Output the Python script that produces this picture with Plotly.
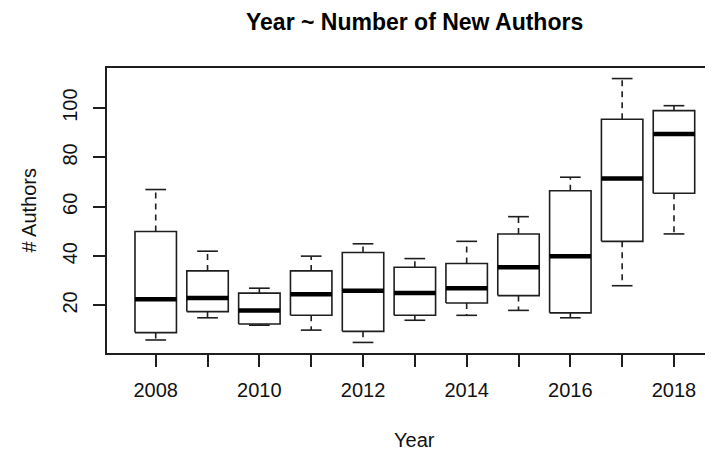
import plotly.graph_objects as go

years = [2008, 2009, 2010, 2011, 2012, 2013, 2014, 2015, 2016, 2017, 2018]
whisker_low = [6, 15, 12, 10, 5, 14, 16, 18, 15, 28, 49]
q1 = [9, 17.5, 12.5, 16, 9.5, 16, 21, 24, 17, 46, 65.5]
median = [22.5, 23, 18, 24.5, 26, 25, 27, 35.5, 40, 71.5, 89.5]
q3 = [50, 34, 25, 34, 41.5, 35.5, 37, 49, 66.5, 95.5, 99]
whisker_high = [67, 42, 27, 40, 45, 39, 46, 56, 72, 112, 101]
tick_labels = ["2008", "", "2010", "", "2012", "", "2014", "", "2016", "", "2018"]

title_text = "Year ~ Number of New Authors"
x_title = "Year"
y_title = "# Authors"

HW = 0.4    # half box width (R boxwex 0.8)
CW = 0.2    # half staple width
LC = "#1e1e1e"
FONT = "Liberation Sans, Arial, Helvetica, sans-serif"

bx, by, wx, wy, cx, cy, mx, my = [], [], [], [], [], [], [], []
for x, lo, a, m, b, hi in zip(years, whisker_low, q1, median, q3, whisker_high):
    bx += [x - HW, x + HW, x + HW, x - HW, x - HW, None]
    by += [a, a, b, b, a, None]
    wx += [x, x, None, x, x, None]
    wy += [b, hi, None, a, lo, None]
    cx += [x - CW, x + CW, None, x - CW, x + CW, None]
    cy += [hi, hi, None, lo, lo, None]
    mx += [x - HW, x + HW, None]
    my += [m, m, None]

fig = go.Figure()
fig.add_trace(go.Scatter(x=wx, y=wy, mode="lines", line=dict(color=LC, width=1.6, dash="6px,5px"),
                         hoverinfo="skip", showlegend=False))
fig.add_trace(go.Scatter(x=cx, y=cy, mode="lines", line=dict(color=LC, width=1.6),
                         hoverinfo="skip", showlegend=False))
fig.add_trace(go.Scatter(x=bx, y=by, mode="lines", line=dict(color=LC, width=1.6),
                         fill="toself", fillcolor="white", showlegend=False))
fig.add_trace(go.Scatter(x=mx, y=my, mode="lines", line=dict(color="black", width=4.5),
                         showlegend=False))

# page body has an 8px margin, so the figure is 8px smaller and margins shifted
fig.update_layout(
    width=705, height=445,
    margin=dict(l=99, r=0, t=60, b=100),
    paper_bgcolor="white", plot_bgcolor="white",
    font=dict(family=FONT, size=20, color="#111"),
    xaxis=dict(range=[2007.06, 2018.753], tickmode="array", tickvals=years, ticktext=tick_labels,
               showgrid=False, zeroline=False, showline=True, linecolor=LC, linewidth=1.5,
               mirror=True, ticks="outside", ticklen=12, tickwidth=1.5, tickcolor=LC,
               ticklabelstandoff=6),
    yaxis=dict(range=[0.72, 116.28], tickmode="array", tickvals=[20, 40, 60, 80, 100],
               showgrid=False, zeroline=False, showline=True, linecolor=LC, linewidth=1.5,
               mirror=False, ticks="outside", ticklen=12, tickwidth=1.5, tickcolor=LC,
               tickangle=-90, ticklabelstandoff=8),
    annotations=[
        dict(text="<b>" + title_text + "</b>", x=2013, xref="x", y=(353 - 22.5) / 285, yref="paper",
             xanchor="center", yanchor="middle", showarrow=False, font=dict(size=23, color="black")),
        dict(text=x_title, x=2013, xref="x", y=(353 - 440) / 285, yref="paper",
             xanchor="center", yanchor="middle", showarrow=False, font=dict(size=20)),
        dict(text=y_title, x=(28 - 107) / 606, xref="paper", y=0.5, yref="paper", textangle=-90,
             xanchor="center", yanchor="middle", showarrow=False, font=dict(size=20)),
    ],
)

fig.write_html("out.html")
